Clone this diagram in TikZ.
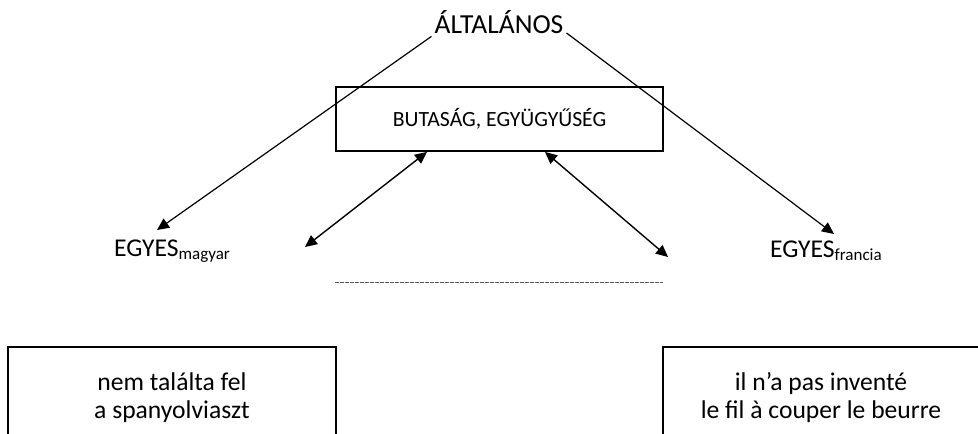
\documentclass[tikz,border=0pt]{standalone}
\usepackage{fontspec}
\setmainfont{Carlito}
\usetikzlibrary{arrows.meta, positioning}

\newcommand{\subtxt}[1]{\raisebox{-3pt}{\fontsize{17}{18}\selectfont #1}}

\begin{document}
\begin{tikzpicture}[x=1pt, y=-1pt,
  every node/.style={font=\fontsize{25.6}{28}\selectfont, inner sep=3pt},
  box/.style={draw, line width=1.8pt},
  link/.style={line width=1.2pt, -{Triangle[length=12pt, width=11pt]}},
  twoway/.style={line width=1.4pt, {Triangle[length=12pt, width=11pt]}-{Triangle[length=12pt, width=11pt]}}]
  \useasboundingbox (0,0) rectangle (978,434);
  \clip (0,0) rectangle (978,434);
  % General term (top)
  \node[anchor=base, font=\fontsize{27.5}{30}\selectfont] (alt) at (499,33) {ÁLTALÁNOS};
  % Shared meaning box
  \node[box, minimum width=327, minimum height=64, font=\fontsize{21.7}{25}\selectfont] (buta) at (499.5,119) {BUTASÁG, EGYÜGYŰSÉG};
  % Language specific terms
  \node[anchor=base west] (egyhu) at (111,256) {EGYES\subtxt{magyar}};
  \node[anchor=base west] (egyfr) at (767,257) {EGYES\subtxt{francia}};
  % Free arrow ends
  \coordinate (hu-tip) at (157,230);
  \coordinate (fr-tip) at (834,234);
  \coordinate (hu-end) at (305,247);
  \coordinate (fr-end) at (668,257);
  % Arrows from the general term
  \draw[link] (alt.south west) -- (hu-tip);
  \draw[link] (alt.base east) -- (fr-tip);
  % Two-way arrows to the shared meaning
  \draw[twoway] (hu-end) -- ([xshift=-72.5pt]buta.south);
  \draw[twoway] ([xshift=45.5pt]buta.south) -- (fr-end);
  % Dashed separator
  \draw[gray!70!black, line width=0.8pt, dash pattern=on 3.5pt off 1.5pt] (335,282) -- (663,282);
  % Idiom boxes (cut at the bottom)
  \node[box, minimum width=328, minimum height=130, anchor=north] (hubox) at (172,346) {};
  \node[align=center] (hu) at (172,398) {nem találta fel\\a spanyolviaszt};
  \node[box, minimum width=324, minimum height=130, anchor=north] (frbox) at (825,346) {};
  \node[align=center] (fr) at (821,398) {il n’a pas inventé\\le fil à couper le beurre};
\end{tikzpicture}
\end{document}
